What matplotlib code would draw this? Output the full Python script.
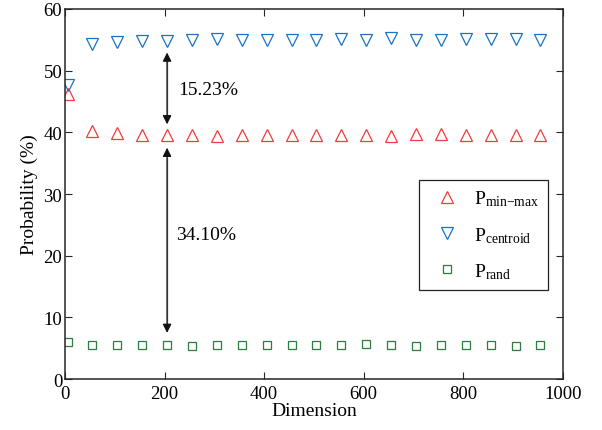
import matplotlib
matplotlib.use('Agg')
from matplotlib import pyplot as plt

plt.rcParams['font.family'] = ['Liberation Serif', 'DejaVu Serif']
plt.rcParams['mathtext.fontset'] = 'custom'
plt.rcParams['mathtext.rm'] = 'Liberation Serif'
plt.rcParams['mathtext.it'] = 'Liberation Serif:italic'

# dimensions tested
dimension = [5, 55, 105, 155, 205, 255, 305, 355, 405, 455,
             505, 555, 605, 655, 705, 755, 805, 855, 905, 955]

# probability (%) per method
p_minmax = [46.2, 40.2, 39.9, 39.6, 39.6, 39.6, 39.35, 39.55, 39.6, 39.6,
            39.6, 39.6, 39.6, 39.35, 39.7, 39.7, 39.6, 39.6, 39.6, 39.6]
p_centroid = [47.6, 54.3, 54.6, 54.8, 54.83, 55.0, 55.1, 55.0, 55.0, 55.0,
              54.9, 55.1, 54.9, 55.3, 54.95, 54.9, 55.1, 55.1, 55.2, 55.0]
p_rand = [6.1, 5.6, 5.55, 5.6, 5.5, 5.4, 5.55, 5.55, 5.5, 5.6,
          5.55, 5.5, 5.65, 5.5, 5.4, 5.6, 5.5, 5.55, 5.45, 5.6]

gap_labels = ['15.23%', '34.10%']

fig = plt.figure(figsize=(6.02, 4.31), dpi=100)
ax = fig.add_axes([0.108, 0.118, 0.827, 0.859])

ax.plot(dimension, p_minmax, '^', ms=9, mfc='none', mec='#f03c3c', mew=0.9,
        label='P$_{\\text{min\u2212max}}$')
ax.plot(dimension, p_centroid, 'v', ms=9, mfc='none', mec='#1a72c4', mew=0.9,
        label=r'P$_{\mathrm{centroid}}$')
ax.plot(dimension, p_rand, 's', ms=6, mfc='none', mec='#2a7d3c', mew=0.9,
        label=r'P$_{\mathrm{rand}}$')

# gap arrows at dimension 205: gray shaft, black heads
xa = dimension[4]
arrow = dict(arrowstyle='<|-|>', color='#111111', lw=0.9,
             mutation_scale=13, shrinkA=0, shrinkB=0)
spans = [(p_minmax[4] + 1.7, p_centroid[4] - 1.9),
         (p_rand[4] + 2.0, p_minmax[4] - 2.1)]
for lo, hi in spans:
    ax.annotate('', xy=(xa, lo), xytext=(xa, hi), arrowprops=arrow)
    ax.plot([xa, xa], [lo + 1.6, hi - 1.6], color='#8a8a8a', lw=1.0)
ax.text(228, 47.0, gap_labels[0], fontsize=14, va='center', ha='left')
ax.text(224, 23.5, gap_labels[1], fontsize=14, va='center', ha='left')

ax.set_xlim(0, 1000)
ax.set_ylim(0, 60)
ax.set_xticks(range(0, 1001, 200))
ax.set_yticks(range(0, 61, 10))
ax.tick_params(direction='in', top=True, right=True, length=5,
               labelsize=13.5, color='#262626')
ax.tick_params(axis='x', pad=4)
ax.tick_params(axis='y', pad=2)
for s in ax.spines.values():
    s.set_linewidth(1.1)
    s.set_color('#262626')
ax.set_xlabel('Dimension', fontsize=14, labelpad=0)
ax.set_ylabel('Probability (%)', fontsize=14, labelpad=4)

leg = ax.legend(loc='upper left', bbox_to_anchor=(0.711, 0.538),
                borderaxespad=0, numpoints=1, fontsize=14, fancybox=False,
                edgecolor='#222222', framealpha=1, handletextpad=0.4,
                borderpad=0.45, labelspacing=0.85)
leg.get_frame().set_linewidth(0.9)

fig.savefig('out.png', dpi=100)
